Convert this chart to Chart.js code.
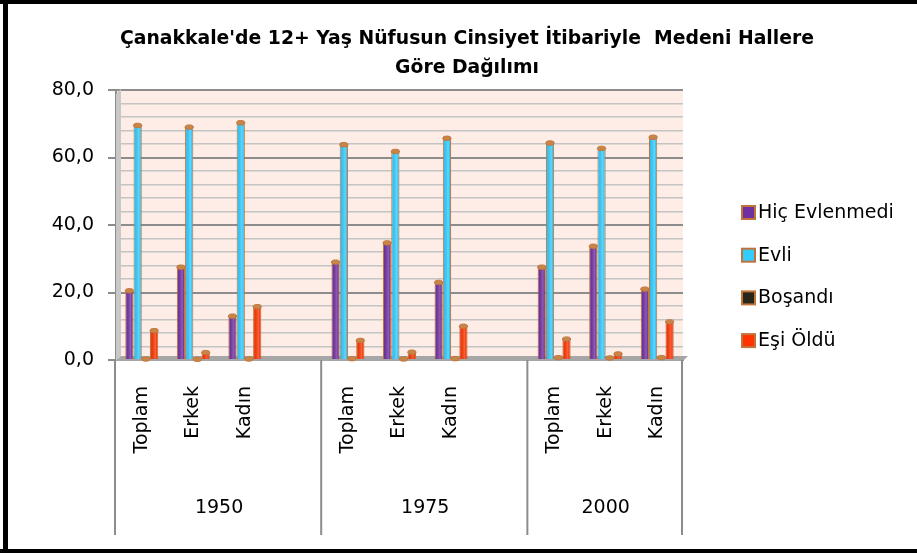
<!DOCTYPE html>
<html>
<head>
<meta charset="utf-8">
<script src="https://cdn.jsdelivr.net/npm/chart.js@4.4.1/dist/chart.umd.min.js"></script>
<style>
  html, body { margin: 0; padding: 0; background: #fff; }
  #wrap { width: 917px; height: 553px; }
</style>
</head>
<body>
<div id="wrap"><canvas id="chart" width="917" height="553"></canvas></div>
<script>
const TITLE = ["Çanakkale'de 12+ Yaş Nüfusun Cinsiyet İtibariyle  Medeni Hallere", 'Göre Dağılımı'];
const CATEGORIES = ['Toplam', 'Erkek', 'Kadın', '', 'Toplam', 'Erkek', 'Kadın', '', 'Toplam', 'Erkek', 'Kadın'];
const YEARS = ['1950', '1975', '2000'];
const YEAR_SPANS = [4, 4, 3];
const SERIES = ['Hiç Evlenmedi', 'Evli', 'Boşandı', 'Eşi Öldü'];
const HIC_EVLENMEDI = [20.5, 27.5, 13.0, null, 29.0, 34.7, 23.0, null, 27.5, 33.7, 21.0];
const EVLI = [69.5, 69.0, 70.3, null, 63.8, 61.8, 65.7, null, 64.3, 62.7, 66.0];
const BOSANDI = [0.3, 0.2, 0.3, null, 0.4, 0.3, 0.4, null, 0.7, 0.6, 0.7];
const ESI_OLDU = [8.7, 2.2, 15.8, null, 5.8, 2.3, 10.0, null, 6.2, 1.8, 11.3];
const Y_MIN = 0, Y_MAX = 80, Y_MINOR_STEP = 4, Y_MAJOR_STEP = 20;

const COLORS = ['#7030A0', '#33CCFF', '#26261A', '#FF3300'];
const EDGE = '#C0743C';
const FONT = 'DejaVu Sans';
const FSIZE = 19;

const datasets = [HIC_EVLENMEDI, EVLI, BOSANDI, ESI_OLDU].map((d, i) => ({
  label: SERIES[i],
  data: d,
  backgroundColor: COLORS[i],
  borderColor: EDGE,
  borderWidth: 1,
  categoryPercentage: 0.64,
  barPercentage: 1.0,
}));

// back wall, 3D floor, cylinder caps, year groups, legend, title, frame
const wallPlugin = {
  id: 'wall',
  beforeDraw(chart) {
    const { ctx, chartArea: a } = chart;
    ctx.save();
    ctx.fillStyle = '#fff';
    ctx.fillRect(0, 0, chart.width, chart.height);
    ctx.fillStyle = '#FDEDE6';
    ctx.fillRect(a.left, a.top, a.right - a.left, a.bottom - a.top);
    ctx.restore();
  },
  beforeDatasetsDraw(chart) {
    const { ctx, chartArea: a } = chart;
    ctx.save();
    ctx.fillStyle = '#C8C8C8';
    ctx.beginPath();
    ctx.moveTo(a.left, a.top + 4);
    ctx.lineTo(a.left + 5, a.top - 1);
    ctx.lineTo(a.left + 5, a.bottom - 4);
    ctx.lineTo(a.left, a.bottom + 1);
    ctx.closePath();
    ctx.fill();
    ctx.fillStyle = '#A6A6A6';
    ctx.beginPath();
    ctx.moveTo(a.left, a.bottom + 1);
    ctx.lineTo(a.right, a.bottom + 1);
    ctx.lineTo(a.right + 5, a.bottom - 4);
    ctx.lineTo(a.left + 5, a.bottom - 4);
    ctx.closePath();
    ctx.fill();
    ctx.restore();
  },
  afterDatasetsDraw(chart) {
    const { ctx } = chart;
    ctx.save();
    chart.data.datasets.forEach((ds, di) => {
      chart.getDatasetMeta(di).data.forEach((bar, i) => {
        if (ds.data[i] == null) return;
        const p = bar.getProps(['x', 'y', 'base', 'width'], true);
        const l = p.x - p.width / 2;
        const g = ctx.createLinearGradient(l, 0, l + p.width, 0);
        g.addColorStop(0, 'rgba(0,0,0,0.06)');
        g.addColorStop(0.65, 'rgba(255,255,255,0.22)');
        g.addColorStop(1, 'rgba(0,0,0,0.04)');
        ctx.fillStyle = g;
        ctx.fillRect(l + 1, p.y, p.width - 2, p.base - p.y);
        ctx.fillStyle = '#C98548';
        ctx.strokeStyle = EDGE;
        ctx.lineWidth = 1;
        ctx.beginPath();
        ctx.ellipse(p.x, p.y, p.width / 2, 2.2, 0, 0, Math.PI * 2);
        ctx.fill();
        ctx.stroke();
      });
    });
    ctx.restore();
  },
  afterDraw(chart) {
    const { ctx, chartArea: a } = chart;
    const x = chart.scales.x;
    ctx.save();
    // year groups
    const half = (x.getPixelForValue(1) - x.getPixelForValue(0)) / 2;
    let start = 0;
    const edges = [x.getPixelForValue(0) - half];
    YEAR_SPANS.forEach(n => { start += n; edges.push(x.getPixelForValue(start - 1) + half); });
    ctx.strokeStyle = '#8C8C8C';
    ctx.lineWidth = 2;
    edges.forEach(px => {
      ctx.beginPath();
      ctx.moveTo(px - 1, a.bottom);
      ctx.lineTo(px - 1, 535);
      ctx.stroke();
    });
    ctx.fillStyle = '#000';
    ctx.font = FSIZE + 'px "' + FONT + '"';
    ctx.textAlign = 'center';
    ctx.textBaseline = 'middle';
    YEARS.forEach((y, i) => ctx.fillText(y, (edges[i] + edges[i + 1]) / 2, 508));
    // legend
    ctx.textAlign = 'left';
    chart.data.datasets.forEach((ds, i) => {
      const cy = 212 + i * 42.7;
      ctx.fillStyle = ds.backgroundColor;
      ctx.fillRect(742, cy - 6, 13, 13);
      ctx.strokeStyle = EDGE;
      ctx.lineWidth = 2;
      ctx.strokeRect(742, cy - 6, 13, 13);
      ctx.fillStyle = '#000';
      ctx.fillText(ds.label, 758, cy + 1);
    });
    // title
    ctx.textAlign = 'center';
    ctx.font = 'bold 18.8px "' + FONT + '"';
    TITLE.forEach((t, i) => ctx.fillText(t, 467, 39 + i * 29));
    // frame
    ctx.fillStyle = '#000';
    ctx.fillRect(3, 0, 5, chart.height);
    ctx.fillRect(0, 0, chart.width, 4);
    ctx.fillRect(0, chart.height - 4, chart.width, 4);
    ctx.restore();
  }
};

new Chart(document.getElementById('chart'), {
  type: 'bar',
  data: { labels: CATEGORIES, datasets },
  options: {
    responsive: false,
    animation: false,
    events: [],
    layout: { padding: { left: 0, right: 234, top: 90, bottom: 0 } },
    plugins: {
      legend: { display: false },
      tooltip: { enabled: false },
      title: { display: false },
    },
    scales: {
      x: {
        afterFit(s) { s.height = 193; },
        grid: { display: false },
        border: { display: true, color: '#8C8C8C', width: 2 },
        ticks: {
          autoSkip: false, minRotation: 90, maxRotation: 90, padding: 18,
          color: '#000', font: { family: FONT, size: FSIZE },
        },
      },
      y: {
        min: Y_MIN, max: Y_MAX,
        afterFit(s) { s.width = 116; },
        border: { display: true, color: '#8C8C8C', width: 2 },
        grid: {
          color: c => c.tick && c.tick.value % Y_MAJOR_STEP === 0 ? '#8C8C8C' : '#C4C4C4',
          lineWidth: c => c.tick && c.tick.value % Y_MAJOR_STEP === 0 ? 2 : 1.5,
          tickLength: 8,
          tickColor: c => c.tick && c.tick.value % Y_MAJOR_STEP === 0 ? '#8C8C8C' : 'rgba(0,0,0,0)',
        },
        ticks: {
          stepSize: Y_MINOR_STEP, autoSkip: false, padding: 14,
          color: '#000', font: { family: FONT, size: FSIZE },
          callback: v => v % Y_MAJOR_STEP === 0 ? v.toFixed(1).replace('.', ',') : '',
        },
      },
    },
  },
  plugins: [wallPlugin],
});
</script>
</body>
</html>
